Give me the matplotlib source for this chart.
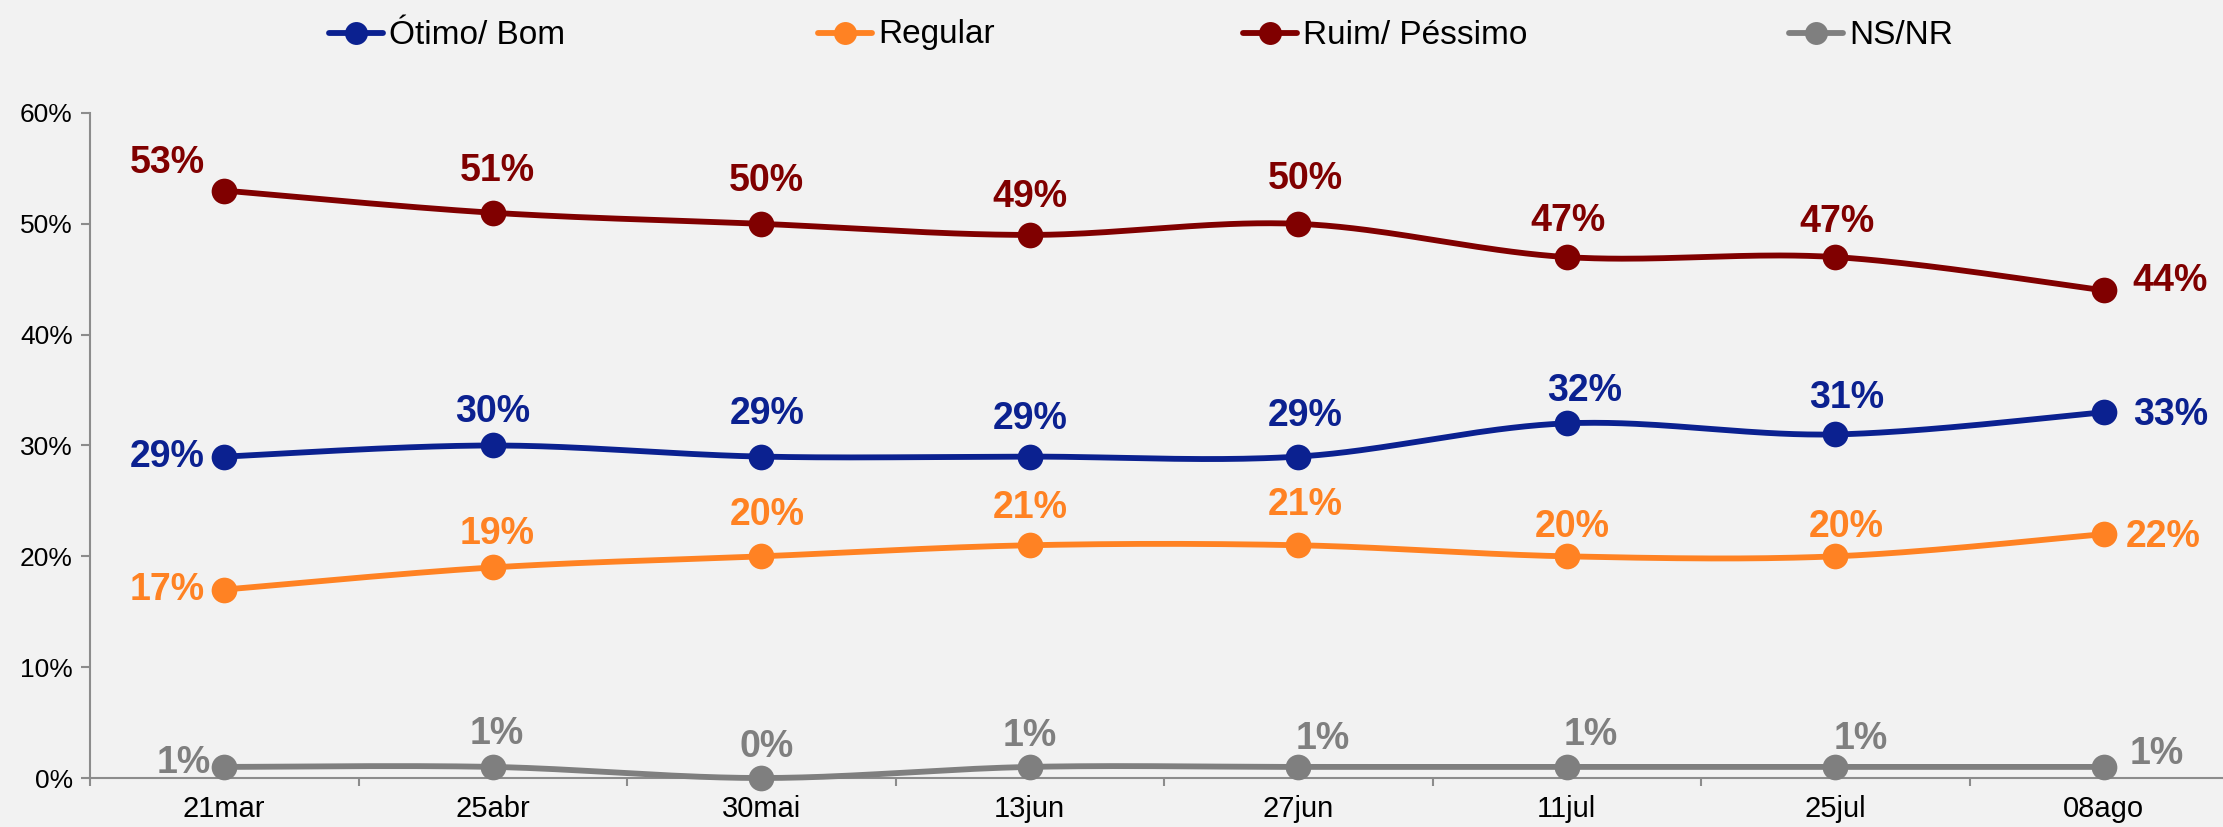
import numpy as np
import matplotlib
matplotlib.use("Agg")
import matplotlib.pyplot as plt
from matplotlib.lines import Line2D

plt.rcParams["font.family"] = ["Liberation Sans", "DejaVu Sans"]

# ---- data ----
dates = ["21mar", "25abr", "30mai", "13jun", "27jun", "11jul", "25jul", "08ago"]
otimo_bom = [29, 30, 29, 29, 29, 32, 31, 33]
regular = [17, 19, 20, 21, 21, 20, 20, 22]
ruim_pessimo = [53, 51, 50, 49, 50, 47, 47, 44]
ns_nr = [1, 1, 0, 1, 1, 1, 1, 1]
series_names = ["Ótimo/ Bom", "Regular", "Ruim/ Péssimo", "NS/NR"]
yticks = [0, 10, 20, 30, 40, 50, 60]

colors = ["#0B2190", "#FF8223", "#800000", "#7F7F7F"]
BG = "#F2F2F2"
AXC = "#8C8C8C"

# label offsets (points) for each series/point
offsets = [
    [(-41, 0), (0, 24), (4, 31), (0, 27), (5, 29), (13, 23), (8, 26), (48, -2)],
    [(-41, 0), (3, 24), (4, 30), (0, 27), (5, 29), (4, 21), (8, 21), (43, -2)],
    [(-41, 20), (3, 30), (4, 31), (0, 27), (5, 32), (1, 26), (1, 25), (48, 7)],
    [(-29, 3), (3, 24), (4, 22), (0, 22), (18, 20), (17, 23), (18, 20), (38, 9)],
]


def smooth(x, y, n=40):
    """Catmull-Rom style smoothing (as used by office charts) through points."""
    x = np.asarray(x, float)
    y = np.asarray(y, float)
    xs, ys = [], []
    for i in range(len(x) - 1):
        p0 = (x[i - 1], y[i - 1]) if i > 0 else (x[i], y[i])
        p1 = (x[i], y[i])
        p2 = (x[i + 1], y[i + 1])
        p3 = (x[i + 2], y[i + 2]) if i + 2 < len(x) else (x[i + 1], y[i + 1])
        c1 = (p1[0] + (p2[0] - p0[0]) / 6, p1[1] + (p2[1] - p0[1]) / 6)
        c2 = (p2[0] - (p3[0] - p1[0]) / 6, p2[1] - (p3[1] - p1[1]) / 6)
        t = np.linspace(0, 1, n)
        bx = (1 - t) ** 3 * p1[0] + 3 * (1 - t) ** 2 * t * c1[0] + 3 * (1 - t) * t ** 2 * c2[0] + t ** 3 * p2[0]
        by = (1 - t) ** 3 * p1[1] + 3 * (1 - t) ** 2 * t * c1[1] + 3 * (1 - t) * t ** 2 * c2[1] + t ** 3 * p2[1]
        xs.extend(bx if i == 0 else bx[1:])
        ys.extend(by if i == 0 else by[1:])
    return np.array(xs), np.array(ys)


W, H = 2223, 827
fig = plt.figure(figsize=(W / 100, H / 100), dpi=100, facecolor=BG)
ax = fig.add_axes([90 / W, 1 - 778 / H, (2238 - 90) / W, (778 - 113) / H])
ax.set_facecolor(BG)

x = np.arange(len(dates))
all_series = [otimo_bom, regular, ruim_pessimo, ns_nr]
for s, (vals, col) in enumerate(zip(all_series, colors)):
    sx, sy = smooth(x, vals)
    ax.plot(sx, sy, color=col, lw=4.2, solid_capstyle="round", zorder=3, clip_on=False)
    ax.plot(x, vals, "o", color=col, ms=18.5, mew=0, zorder=4, clip_on=False)
    for i, v in enumerate(vals):
        dx, dy = offsets[s][i]
        ax.annotate(f"{v}%", (x[i], v), xytext=(dx, dy), textcoords="offset points",
                    ha="center", va="center", fontsize=27, fontweight="bold",
                    color=col, zorder=5, annotation_clip=False)

ax.set_xlim(-0.5, len(dates) - 0.5)
ax.set_ylim(0, 60)
ax.set_yticks(yticks)
ax.set_yticklabels([f"{t}%" for t in yticks], fontsize=19)
ax.set_xticks(np.arange(-0.5, len(dates), 1.0))
ax.set_xticklabels([])
ax.set_xticks(x, minor=True)
ax.set_xticklabels(dates, minor=True, fontsize=21)
ax.tick_params(axis="x", which="major", length=6, width=1.5, color=AXC, direction="out")
ax.tick_params(axis="x", which="minor", length=0, pad=12)
ax.tick_params(axis="y", length=6.5, width=1.5, color=AXC, pad=6)
for side in ["top", "right"]:
    ax.spines[side].set_visible(False)
for side in ["left", "bottom"]:
    ax.spines[side].set_color(AXC)
    ax.spines[side].set_linewidth(1.5)

# legend row across the top
leg_centers = [356, 845, 1270, 1816]
ly = 1 - 33 / H
for name, col, cx in zip(series_names, colors, leg_centers):
    fig.add_artist(Line2D([(cx - 27) / W, (cx + 27) / W], [ly, ly], color=col, lw=4.2,
                          solid_capstyle="round", transform=fig.transFigure))
    fig.add_artist(Line2D([cx / W], [ly], marker="o", ms=16.5, mew=0, color=col,
                          transform=fig.transFigure))
    fig.text((cx + 33) / W, ly - 2 / H, name, fontsize=24, va="center", ha="left", color="black")

fig.savefig("out.png", dpi=100, facecolor=BG)
